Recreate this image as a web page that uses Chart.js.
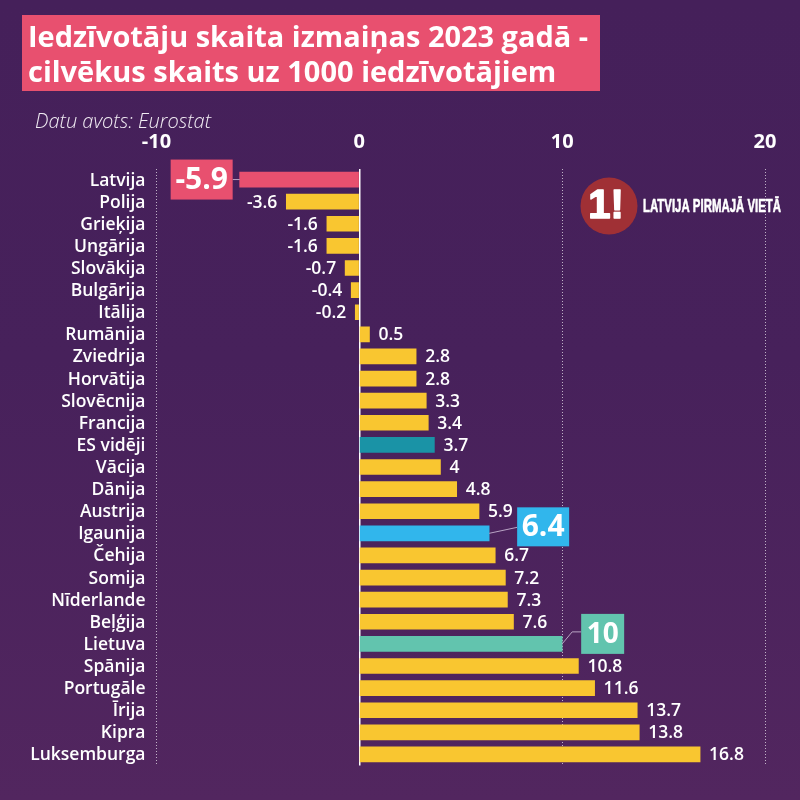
<!DOCTYPE html>
<html>
<head>
<meta charset="utf-8">
<title>Iedzīvotāju skaita izmaiņas 2023</title>
<script src="https://cdn.jsdelivr.net/npm/chart.js@4"></script>
<style>
    html, body { margin: 0; padding: 0; }
    body { width: 800px; height: 800px; background: linear-gradient(180deg, #45205a 0%, #47215b 45%, #52265f 100%); }
    canvas { display: block; }
</style>
</head>
<body>
<canvas id="chart" width="800" height="800"></canvas>
<script>
const categories = ["Latvija", "Polija", "Grieķija", "Ungārija", "Slovākija", "Bulgārija", "Itālija", "Rumānija",
    "Zviedrija", "Horvātija", "Slovēcnija", "Francija", "ES vidēji", "Vācija", "Dānija", "Austrija", "Igaunija",
    "Čehija", "Somija", "Nīderlande", "Beļģija", "Lietuva", "Spānija", "Portugāle", "Īrija", "Kipra", "Luksemburga"];
const values = [-5.9, -3.6, -1.6, -1.6, -0.7, -0.4, -0.2, 0.5, 2.8, 2.8, 3.3, 3.4, 3.7, 4, 4.8, 5.9, 6.4,
    6.7, 7.2, 7.3, 7.6, 10, 10.8, 11.6, 13.7, 13.8, 16.8];
const titleLines = ["Iedzīvotāju skaita izmaiņas 2023 gadā -", "cilvēkus skaits uz 1000 iedzīvotājiem"];
const sourceText = "Datu avots: Eurostat";
const logoText = "LATVIJA PIRMAJĀ VIETĀ";

const FONT = '"Open Sans", sans-serif';
const YELLOW = "#f9c630";
const HIGHLIGHTS = {
    "Latvija": "#e8506f",
    "ES vidēji": "#1a93a6",
    "Igaunija": "#31b6ec",
    "Lietuva": "#62c4ae",
};

// callout boxes next to the highlighted bars, offsets from the bar end
const CALLOUTS = {
    "Latvija": { dx: -69, dy: -20, w: 62, h: 40, size: 30, line: [[0, 0], [-7, 0]] },
    "Igaunija": { dx: 28, dy: -26, w: 52, h: 39, size: 30, line: [[0, 0], [28, -6]] },
    "Lietuva": { dx: 19, dy: -30, w: 43, h: 40, size: 28, line: [[0, 0], [10, -12], [19, -12]] },
};

const overlayPlugin = {
    id: "overlay",
    afterDatasetsDraw(chart) {
        const { ctx, scales } = chart;
        ctx.save();

        // value labels and callouts
        categories.forEach((name, i) => {
            const x = scales.x.getPixelForValue(values[i]);
            const y = scales.y.getPixelForValue(i);
            const callout = CALLOUTS[name];
            if (callout) {
                ctx.strokeStyle = "#b9a4c4";
                ctx.lineWidth = 1;
                ctx.beginPath();
                callout.line.forEach(([dx, dy], k) => k ? ctx.lineTo(x + dx, y + dy) : ctx.moveTo(x + dx, y + dy));
                ctx.stroke();
                ctx.fillStyle = HIGHLIGHTS[name];
                ctx.fillRect(x + callout.dx, y + callout.dy, callout.w, callout.h);
                ctx.fillStyle = "#fff";
                ctx.font = `700 ${callout.size}px ${FONT}`;
                ctx.textAlign = "center";
                ctx.textBaseline = "middle";
                ctx.fillText(String(values[i]), x + callout.dx + callout.w / 2, y + callout.dy + callout.h / 2 + 1);
                return;
            }
            ctx.fillStyle = "#fff";
            ctx.font = `600 17.5px ${FONT}`;
            ctx.textBaseline = "middle";
            ctx.textAlign = values[i] < 0 ? "right" : "left";
            ctx.fillText(String(values[i]), x + (values[i] < 0 ? -9 : 9), y + 1);
        });

        // title
        ctx.fillStyle = "#e8506f";
        ctx.fillRect(22, 15, 578, 76);
        ctx.fillStyle = "#fff";
        ctx.font = `700 29px ${FONT}`;
        ctx.textAlign = "left";
        ctx.textBaseline = "alphabetic";
        ctx.fillText(titleLines[0], 28, 47, 560);
        ctx.fillText(titleLines[1], 28, 82, 533);

        ctx.font = `italic 300 20px ${FONT}`;
        ctx.fillStyle = "#f1ecf3";
        ctx.fillText(sourceText, 35, 128, 177);

        // badge
        ctx.fillStyle = "#a03035";
        ctx.beginPath();
        ctx.arc(609, 206, 28.5, 0, Math.PI * 2);
        ctx.fill();
        ctx.fillStyle = "#fff";
        ctx.strokeStyle = "#fff";
        ctx.lineJoin = "round";
        ctx.font = `700 40px "Liberation Sans", sans-serif`;
        ctx.textAlign = "center";
        ctx.textBaseline = "middle";
        ctx.lineWidth = 1.5;
        ctx.strokeText("1!", 606, 207);
        ctx.fillText("1!", 606, 207);
        ctx.font = `700 18px "Liberation Sans", sans-serif`;
        ctx.textAlign = "left";
        ctx.lineWidth = 0.6;
        ctx.strokeText(logoText, 643, 207, 138);
        ctx.fillText(logoText, 643, 207, 138);

        ctx.restore();
    },
};

new Chart(document.getElementById("chart"), {
    type: "bar",
    data: {
        labels: categories,
        datasets: [{
            data: values,
            backgroundColor: categories.map(name => HIGHLIGHTS[name] || YELLOW),
            barThickness: 15,
            borderWidth: 0,
        }],
    },
    plugins: [overlayPlugin],
    options: {
        indexAxis: "y",
        responsive: false,
        animation: false,
        layout: { padding: { left: 0, right: 35, top: 0, bottom: 34.5 } },
        plugins: {
            legend: { display: false },
            tooltip: { enabled: false },
        },
        scales: {
            x: {
                position: "top",
                min: -10,
                max: 20,
                afterFit: scale => { scale.height = 168.5; },
                ticks: {
                    stepSize: 10,
                    maxRotation: 0,
                    padding: 14,
                    color: "#fff",
                    font: { family: "Open Sans", size: 20, weight: "700" },
                },
                grid: {
                    drawTicks: false,
                    color: ctx => ctx.tick && ctx.tick.value === 0 ? "#ffffff" : "rgba(255,255,255,0.65)",
                    lineWidth: ctx => ctx.tick && ctx.tick.value === 0 ? 1.5 : 1,
                },
                border: {
                    display: false,
                    dash: ctx => ctx.tick && ctx.tick.value === 0 ? [] : [1, 2],
                },
            },
            y: {
                afterFit: scale => { scale.width = 156.5; },
                ticks: {
                    autoSkip: false,
                    padding: 3,
                    labelOffset: 1,
                    color: "#fff",
                    font: { family: "Open Sans", size: 17.5, weight: "600" },
                },
                grid: { display: false },
                border: { display: false },
            },
        },
    },
});
</script>
</body>
</html>
